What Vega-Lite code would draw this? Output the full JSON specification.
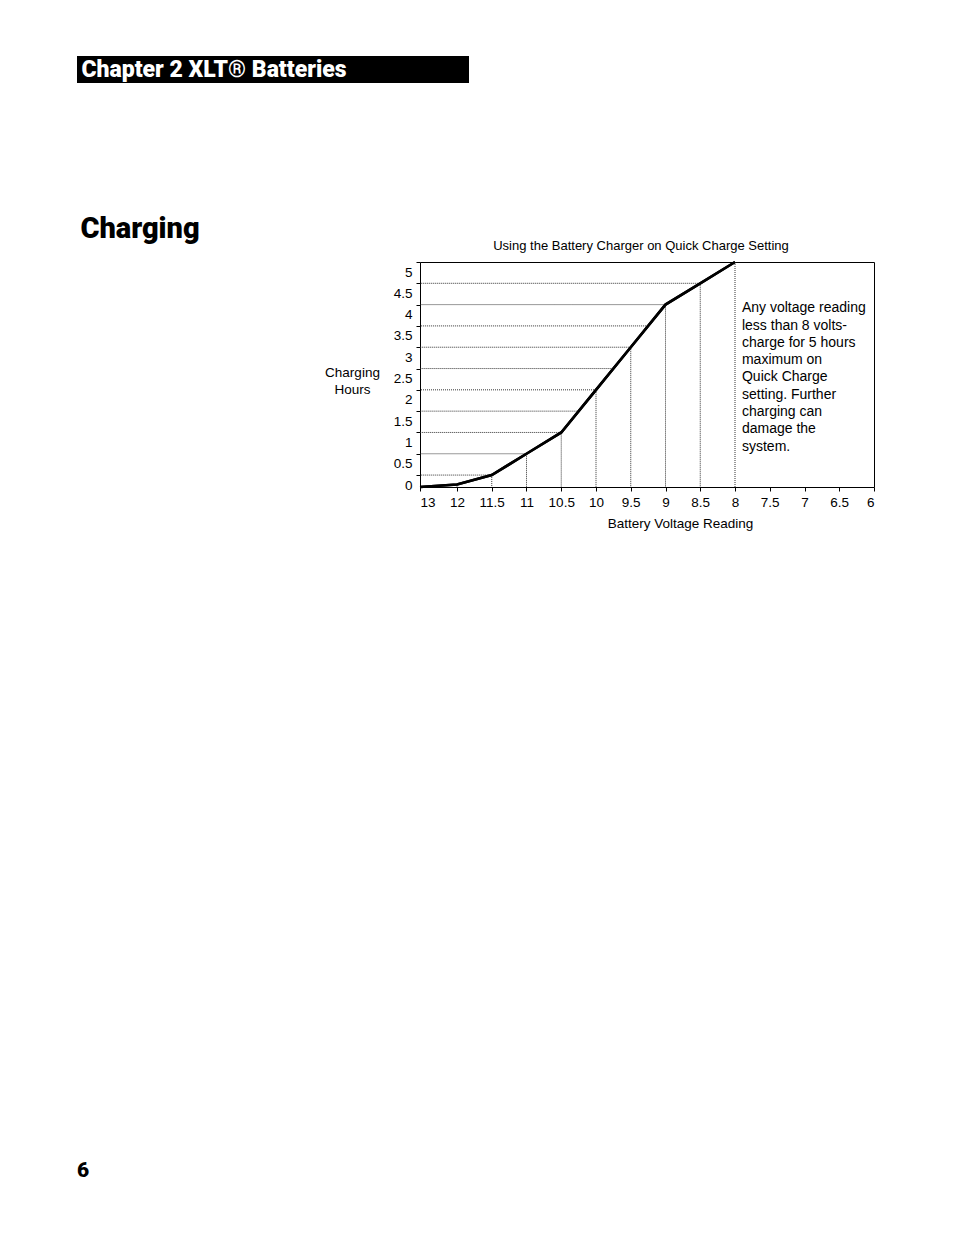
{
  "$schema": "https://vega.github.io/schema/vega-lite/v6.json",
  "background": "white",
  "padding": {"left": 76, "top": 56, "right": 0, "bottom": 0},
  "bounds": "flush",
  "spacing": 103,
  "config": {
    "font": "Liberation Sans",
    "title": {"color": "black"},
    "axis": {"labelColor": "black", "titleColor": "black", "tickColor": "black", "labelOverlap": false, "labelBound": false}
  },
  "datasets": {
    "curve": [
      {"volts": 13, "hours": -0.28},
      {"volts": 12, "hours": -0.22},
      {"volts": 11.5, "hours": 0},
      {"volts": 11, "hours": 0.5},
      {"volts": 10.5, "hours": 1},
      {"volts": 10, "hours": 2},
      {"volts": 9.5, "hours": 3},
      {"volts": 9, "hours": 4},
      {"volts": 8.5, "hours": 4.5},
      {"volts": 8, "hours": 5}
    ],
    "levels": [
      {"level": 0, "to": 11.5},
      {"level": 0.5, "to": 11},
      {"level": 1, "to": 10.5},
      {"level": 1.5, "to": 10.25},
      {"level": 2, "to": 10},
      {"level": 2.5, "to": 9.75},
      {"level": 3, "to": 9.5},
      {"level": 3.5, "to": 9.25},
      {"level": 4, "to": 9},
      {"level": 4.5, "to": 8.5}
    ]
  },
  "vconcat": [
    {
      "bounds": "flush",
      "spacing": 0,
      "hconcat": [
        {
          "width": 274,
          "height": 27,
          "view": {"fill": "black", "stroke": null},
          "data": {"values": [{}]},
          "mark": {"type": "text", "text": "Chapter 2 XLT® Batteries", "font": "Roboto", "fontWeight": 900, "fontSize": 23, "align": "center", "baseline": "middle", "color": "white"}
        },
        {
          "width": 118,
          "height": 27,
          "view": {"fill": "black", "stroke": null},
          "data": {"values": [{}]},
          "mark": {"type": "text", "text": ""}
        }
      ]
    },
    {
      "bounds": "flush",
      "hconcat": [
        {
          "width": 126,
          "height": 139,
          "view": {"stroke": null},
          "data": {"values": [{}]},
          "mark": {"type": "text", "text": "Charging", "font": "Roboto", "fontWeight": 900, "fontSize": 29, "align": "center", "baseline": "middle", "color": "black"}
        }
      ]
    },
    {
      "bounds": "flush",
      "spacing": 143,
      "hconcat": [
        {
          "width": 200,
          "height": 225,
          "view": {"stroke": null},
          "data": {"values": [{}]},
          "mark": {"type": "text", "text": ""}
        },
        {
          "width": 454,
          "height": 225,
          "view": {"stroke": "black", "strokeWidth": 1},
          "title": {
            "text": "Using the Battery Charger on Quick Charge Setting",
            "fontSize": 13,
            "fontWeight": "normal",
            "offset": 4,
            "dx": -6
          },
          "layer": [
            {
              "data": {"name": "curve"},
              "mark": {"type": "line", "color": "black", "strokeWidth": 2.6},
              "encoding": {
                "x": {
                  "field": "volts",
                  "type": "quantitative",
                  "scale": {"domain": [13, 12, 6], "range": [0, 37, 454], "nice": false, "zero": false},
                  "axis": {
                    "values": [13, 12, 11.5, 11, 10.5, 10, 9.5, 9, 8.5, 8, 7.5, 7, 6.5, 6],
                    "tickCount": 30,
                    "format": "~g",
                    "grid": false,
                    "domain": false,
                    "tickSize": 4,
                    "labelPadding": 4,
                    "labelOverlap": false,
                    "labelFontSize": 13.5,
                    "labelFlush": true,
                    "title": "Battery Voltage Reading",
                    "titleFontSize": 13.5,
                    "titleFontWeight": "normal",
                    "titleX": 260,
                    "titlePadding": 8
                  }
                },
                "y": {
                  "field": "hours",
                  "type": "quantitative",
                  "scale": {"domain": [-0.28, 5], "nice": false, "zero": false},
                  "axis": {
                    "values": [0, 0.5, 1, 1.5, 2, 2.5, 3, 3.5, 4, 4.5, 5],
                    "tickCount": 30,
                    "format": "~g",
                    "grid": false,
                    "domain": false,
                    "tickSize": 4,
                    "labelPadding": 4,
                    "labelOffset": 10,
                    "labelOverlap": false,
                    "labelFontSize": 13.5,
                    "title": ["Charging", "Hours"],
                    "titleAngle": 0,
                    "titleAlign": "center",
                    "titleBaseline": "middle",
                    "titleFontSize": 13.5,
                    "titleFontWeight": "normal",
                    "titleLineHeight": 17,
                    "titleX": -68,
                    "titleY": 110
                  }
                }
              }
            },
            {
              "data": {"name": "levels"},
              "mark": {"type": "rule", "color": "#333333", "strokeWidth": 1, "strokeDash": [1, 1]},
              "encoding": {
                "x": {"field": "to", "type": "quantitative"},
                "x2": {"datum": 13},
                "y": {"field": "level", "type": "quantitative"}
              }
            },
            {
              "data": {"name": "curve"},
              "mark": {"type": "rule", "color": "#333333", "strokeWidth": 1, "strokeDash": [1, 1]},
              "encoding": {
                "x": {"field": "volts", "type": "quantitative"},
                "y": {"field": "hours", "type": "quantitative"},
                "y2": {"datum": -0.28}
              }
            },
            {
              "data": {"name": "curve"},
              "mark": {"type": "line", "color": "black", "strokeWidth": 2.6},
              "encoding": {
                "x": {"field": "volts", "type": "quantitative"},
                "y": {"field": "hours", "type": "quantitative"}
              }
            },
            {
              "data": {"values": [{}]},
              "mark": {
                "type": "text",
                "align": "left",
                "baseline": "top",
                "fontSize": 14,
                "lineHeight": 17.3,
                "color": "black",
                "text": ["Any voltage reading", "less than 8 volts-", "charge for 5 hours", "maximum on", "Quick Charge", "setting. Further", "charging can", "damage the", "system."]
              },
              "encoding": {
                "x": {"datum": 7.9, "type": "quantitative"},
                "y": {"datum": 4.08, "type": "quantitative"}
              }
            }
          ]
        }
      ]
    },
    {
      "width": 10,
      "height": 694,
      "view": {"stroke": null},
      "data": {"values": [{}]},
      "mark": {"type": "text", "text": ""}
    },
    {
      "width": 12,
      "height": 18,
      "view": {"stroke": null},
      "data": {"values": [{}]},
      "mark": {"type": "text", "text": "6", "font": "Roboto", "fontWeight": 900, "fontSize": 21, "align": "center", "baseline": "middle", "color": "black"}
    }
  ]
}
